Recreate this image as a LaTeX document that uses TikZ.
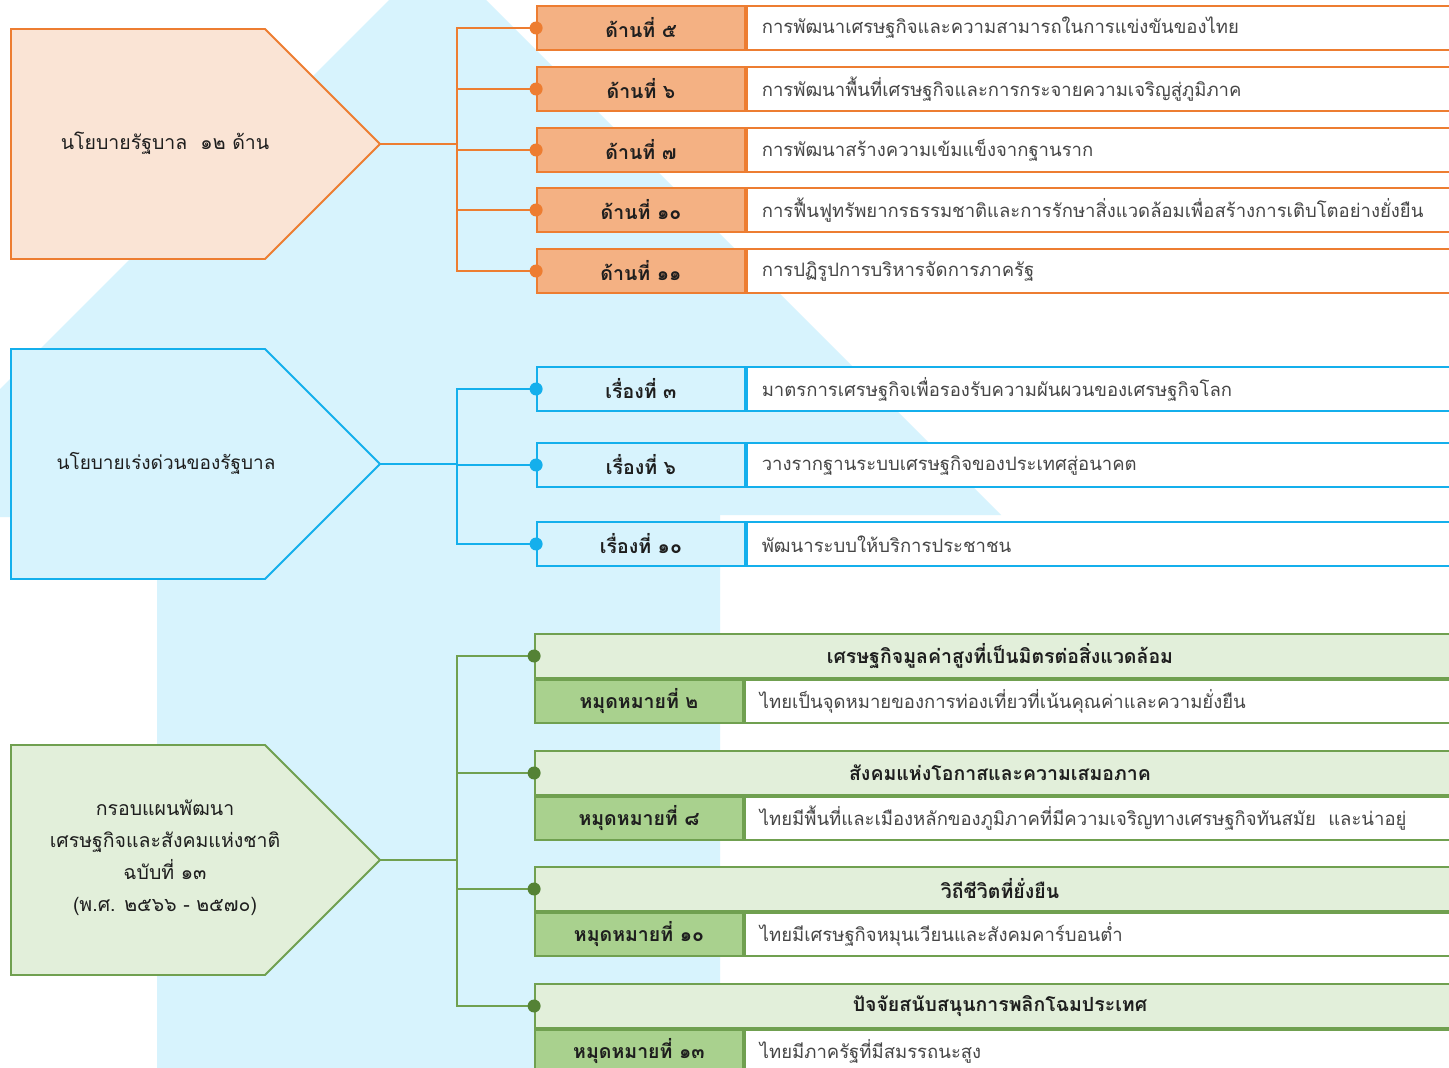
\documentclass[tikz,border=0pt]{standalone}
\usepackage{fontspec}
\newfontfamily\thai[Script=Thai]{Loma}
\setmainfont[Script=Thai]{Loma}
\definecolor{bgblue}{RGB}{215,243,253}
\definecolor{ocol}{RGB}{237,125,49}
\definecolor{ofill}{RGB}{244,177,131}
\definecolor{opale}{RGB}{250,228,213}
\definecolor{bcol}{RGB}{20,175,236}
\definecolor{bfill}{RGB}{215,243,253}
\definecolor{gcol}{RGB}{112,160,80}
\definecolor{gdot}{RGB}{84,130,53}
\definecolor{gfill}{RGB}{169,209,142}
\definecolor{gpale}{RGB}{226,239,218}
\definecolor{txt}{RGB}{30,30,30}
\definecolor{dtxt}{RGB}{70,70,70}
\tikzset{
  cell/.style={draw, line width=1.8pt, minimum width=208pt, minimum height=44pt, inner sep=0pt, font=\fontsize{19.5}{20}\selectfont\bfseries, text=txt},
  desc/.style={draw, line width=1.8pt, fill=white, anchor=west, minimum width=720pt, minimum height=44pt, text width=690pt, align=left, inner xsep=15pt, inner ysep=0pt, font=\fontsize{18.5}{20}\selectfont, text=dtxt},
  head/.style={draw, line width=1.8pt, fill=gpale, minimum width=930pt, minimum height=44pt, inner sep=0pt, font=\fontsize{19.5}{20}\selectfont\bfseries, text=txt},
  roottxt/.style={align=center, font=\fontsize{19.5}{32}\selectfont, text=txt},
  conn/.style={line width=2pt},
}
\begin{document}
\begin{tikzpicture}[x=1pt,y=-1pt]
\useasboundingbox (0,0) rectangle (1449,1068);
\clip (0,0) rectangle (1449,1068);
\fill[white] (0,0) rectangle (1449,1068);
% background arrow
\fill[bgblue] (0,389) -- (437.5,-48.5) -- (1001,515) -- (720,515) -- (720,1080) -- (157,1080) -- (157,517) -- (0,517) -- cycle;

% ---------- orange group
\draw[ocol, fill=opale, line width=1.8pt] (11,29) -- (265,29) -- (380,144) -- (265,259) -- (11,259) -- cycle;
\coordinate (oapex) at (380,144);
\node[roottxt] (otxt) at (165,143) {นโยบายรัฐบาล\ \ ๑๒ ด้าน};
\coordinate (obus) at (457,144);
\foreach \n/\y/\lab/\d in {o1/28/ด้านที่ ๕/การพัฒนาเศรษฐกิจและความสามารถในการแข่งขันของไทย,
  o2/89/ด้านที่ ๖/การพัฒนาพื้นที่เศรษฐกิจและการกระจายความเจริญสู่ภูมิภาค,
  o3/150/ด้านที่ ๗/การพัฒนาสร้างความเข้มแข็งจากฐานราก,
  o4/210/ด้านที่ ๑๐/การฟื้นฟูทรัพยากรธรรมชาติและการรักษาสิ่งแวดล้อมเพื่อสร้างการเติบโตอย่างยั่งยืน,
  o5/271/ด้านที่ ๑๑/การปฏิรูปการบริหารจัดการภาครัฐ}{
  \node[cell, draw=ocol, fill=ofill] (\n) at (641,\y) {\lab};
  \node[desc, draw=ocol] (\n d) at (\n.east) {\d};
  \draw[conn, ocol] (obus) |- (\n.west);
  \fill[ocol] (\n.west) circle (6.5pt);
}
\draw[conn, ocol] (oapex) -- (obus);

% ---------- blue group
\draw[bcol, fill=bfill, line width=1.8pt] (11,349) -- (265,349) -- (380,464) -- (265,579) -- (11,579) -- cycle;
\coordinate (bapex) at (380,464);
\node[roottxt, font=\fontsize{19}{32}\selectfont] (btxt) at (166,463) {นโยบายเร่งด่วนของรัฐบาล};
\coordinate (bbus) at (457,464);
\foreach \n/\y/\lab/\d in {b1/389/เรื่องที่ ๓/มาตรการเศรษฐกิจเพื่อรองรับความผันผวนของเศรษฐกิจโลก,
  b2/465/เรื่องที่ ๖/วางรากฐานระบบเศรษฐกิจของประเทศสู่อนาคต,
  b3/544/เรื่องที่ ๑๐/พัฒนาระบบให้บริการประชาชน}{
  \node[cell, draw=bcol, fill=bfill] (\n) at (641,\y) {\lab};
  \node[desc, draw=bcol] (\n d) at (\n.east) {\d};
  \draw[conn, bcol] (bbus) |- (\n.west);
  \fill[bcol] (\n.west) circle (6.5pt);
}
\draw[conn, bcol] (bapex) -- (bbus);

% ---------- green group
\draw[gcol, fill=gpale, line width=1.8pt] (11,745) -- (265,745) -- (380,860) -- (265,975) -- (11,975) -- cycle;
\coordinate (gapex) at (380,860);
\node[roottxt] (gtxt) at (165,858) {กรอบแผนพัฒนา\\เศรษฐกิจและสังคมแห่งชาติ\\ฉบับที่ ๑๓\\(พ.ศ. ๒๕๖๖ - ๒๕๗๐)};
\coordinate (gbus) at (457,860);
\foreach \n/\y/\h/\lab/\d in {g1/656/เศรษฐกิจมูลค่าสูงที่เป็นมิตรต่อสิ่งแวดล้อม/หมุดหมายที่ ๒/ไทยเป็นจุดหมายของการท่องเที่ยวที่เน้นคุณค่าและความยั่งยืน,
  g2/773/สังคมแห่งโอกาสและความเสมอภาค/หมุดหมายที่ ๘/ไทยมีพื้นที่และเมืองหลักของภูมิภาคที่มีความเจริญทางเศรษฐกิจทันสมัย\ \ และน่าอยู่,
  g3/889/วิถีชีวิตที่ยั่งยืน/หมุดหมายที่ ๑๐/ไทยมีเศรษฐกิจหมุนเวียนและสังคมคาร์บอนต่ำ,
  g4/1006/ปัจจัยสนับสนุนการพลิกโฉมประเทศ/หมุดหมายที่ ๑๓/ไทยมีภาครัฐที่มีสมรรถนะสูง}{
  \node[head, draw=gcol] (\n h) at (1000,\y) {\h};
  \node[cell, draw=gcol, fill=gfill, minimum height=43pt, anchor=north west] (\n) at (\n h.south west) {\lab};
  \node[desc, draw=gcol, minimum height=43pt] (\n d) at (\n.east) {\d};
  \draw[conn, gcol] (gbus) |- (\n h.west);
  \fill[gdot] (\n h.west) circle (6.5pt);
}
\draw[conn, gcol] (gapex) -- (gbus);
\end{tikzpicture}
\end{document}
